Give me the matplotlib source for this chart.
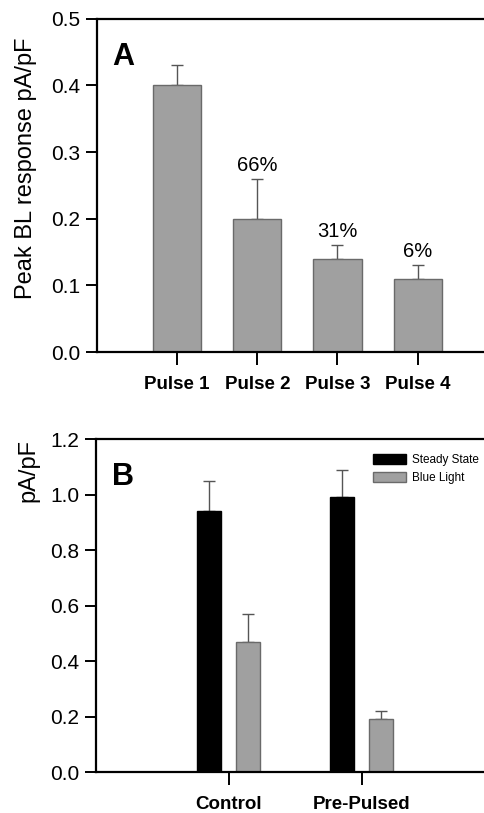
import matplotlib.pyplot as plt
import matplotlib.patches as mpatches
import numpy as np

plt.rcParams['font.family'] = ['Liberation Sans', 'DejaVu Sans']

# data panel A
pulses = ["Pulse 1", "Pulse 2", "Pulse 3", "Pulse 4"]
peak = [0.40, 0.20, 0.14, 0.11]
peak_err = [0.03, 0.06, 0.02, 0.02]
pct = ["", "66%", "31%", "6%"]

# data panel B
groups = ["Control", "Pre-Pulsed"]
steady = [0.94, 0.99]
steady_err = [0.11, 0.10]
blue = [0.47, 0.19]
blue_err = [0.10, 0.03]

grey = "#a0a0a0"
edge = "#6a6a6a"

fig = plt.figure(figsize=(4.85, 8.13), dpi=100)
axA = fig.add_axes([0.2, 0.567, 0.8, 0.41])
axB = fig.add_axes([0.198, 0.0504, 0.802, 0.4096])

def style(ax):
    ax.spines['right'].set_visible(False)
    for s in ['left', 'top', 'bottom']:
        ax.spines[s].set_linewidth(1.6)
    ax.tick_params(axis='y', direction='out', length=8, width=1.4, labelsize=15, pad=4)
    ax.tick_params(axis='x', direction='out', length=9, width=1.4, labelsize=13.5, pad=8)
    for t in ax.get_xticklabels():
        t.set_fontweight('bold')

# ---- panel A
x = np.arange(1, len(pulses) + 1)
axA.bar(x, peak, width=0.6, color=grey, edgecolor=edge, linewidth=1, zorder=2)
axA.errorbar(x, peak, yerr=[np.zeros(len(peak)), peak_err], fmt='none',
             ecolor="#555555", elinewidth=1, capsize=4, capthick=1, zorder=1)
for xi, v, e, t in zip(x, peak, peak_err, pct):
    if t:
        axA.annotate(t, (xi, v + e), xytext=(0, 3), textcoords='offset points',
                     ha='center', va='bottom', fontsize=14.5)
axA.set_xlim(0, 4.84)
axA.set_ylim(0, 0.5)
axA.set_yticks([0.0, 0.1, 0.2, 0.3, 0.4, 0.5])
axA.set_xticks(x)
axA.set_xticklabels(pulses)
axA.set_ylabel("Peak BL response pA/pF", fontsize=17)
axA.yaxis.set_label_coords(-0.155, 0.55)
style(axA)
axA.text(0.04, 0.93, "A", transform=axA.transAxes, fontsize=22, fontweight='bold',
         ha='left', va='top')

# ---- panel B
xb = np.arange(1, len(groups) + 1)
off = 0.147
w = 0.18
axB.bar(xb - off, steady, width=w, color='black', edgecolor='black', zorder=2)
axB.bar(xb + off, blue, width=w, color=grey, edgecolor=edge, linewidth=1, zorder=2)
axB.errorbar(xb - off, steady, yerr=[np.zeros(2), steady_err], fmt='none',
             ecolor="#555555", elinewidth=1, capsize=4, capthick=1, zorder=1)
axB.errorbar(xb + off, blue, yerr=[np.zeros(2), blue_err], fmt='none',
             ecolor="#555555", elinewidth=1, capsize=4, capthick=1, zorder=1)
axB.set_xlim(0, 2.93)
axB.set_ylim(0, 1.2)
axB.set_yticks([0.0, 0.2, 0.4, 0.6, 0.8, 1.0, 1.2])
axB.set_xticks(xb)
axB.set_xticklabels(groups)
axB.set_ylabel("pA/pF", fontsize=17, loc='top')
axB.yaxis.set_label_coords(-0.145, 1.0)
style(axB)
axB.text(0.04, 0.93, "B", transform=axB.transAxes, fontsize=22, fontweight='bold',
         ha='left', va='top')
handles = [mpatches.Patch(facecolor='black', edgecolor='black', label="Steady State"),
           mpatches.Patch(facecolor=grey, edgecolor=edge, label="Blue Light")]
axB.legend(handles=handles, loc='upper left', bbox_to_anchor=(0.70, 0.97),
           frameon=False, fontsize=8.5, handlelength=2.8, handleheight=0.9,
           handletextpad=0.5, labelspacing=0.55, borderaxespad=0)

fig.savefig("out.png", dpi=100)
